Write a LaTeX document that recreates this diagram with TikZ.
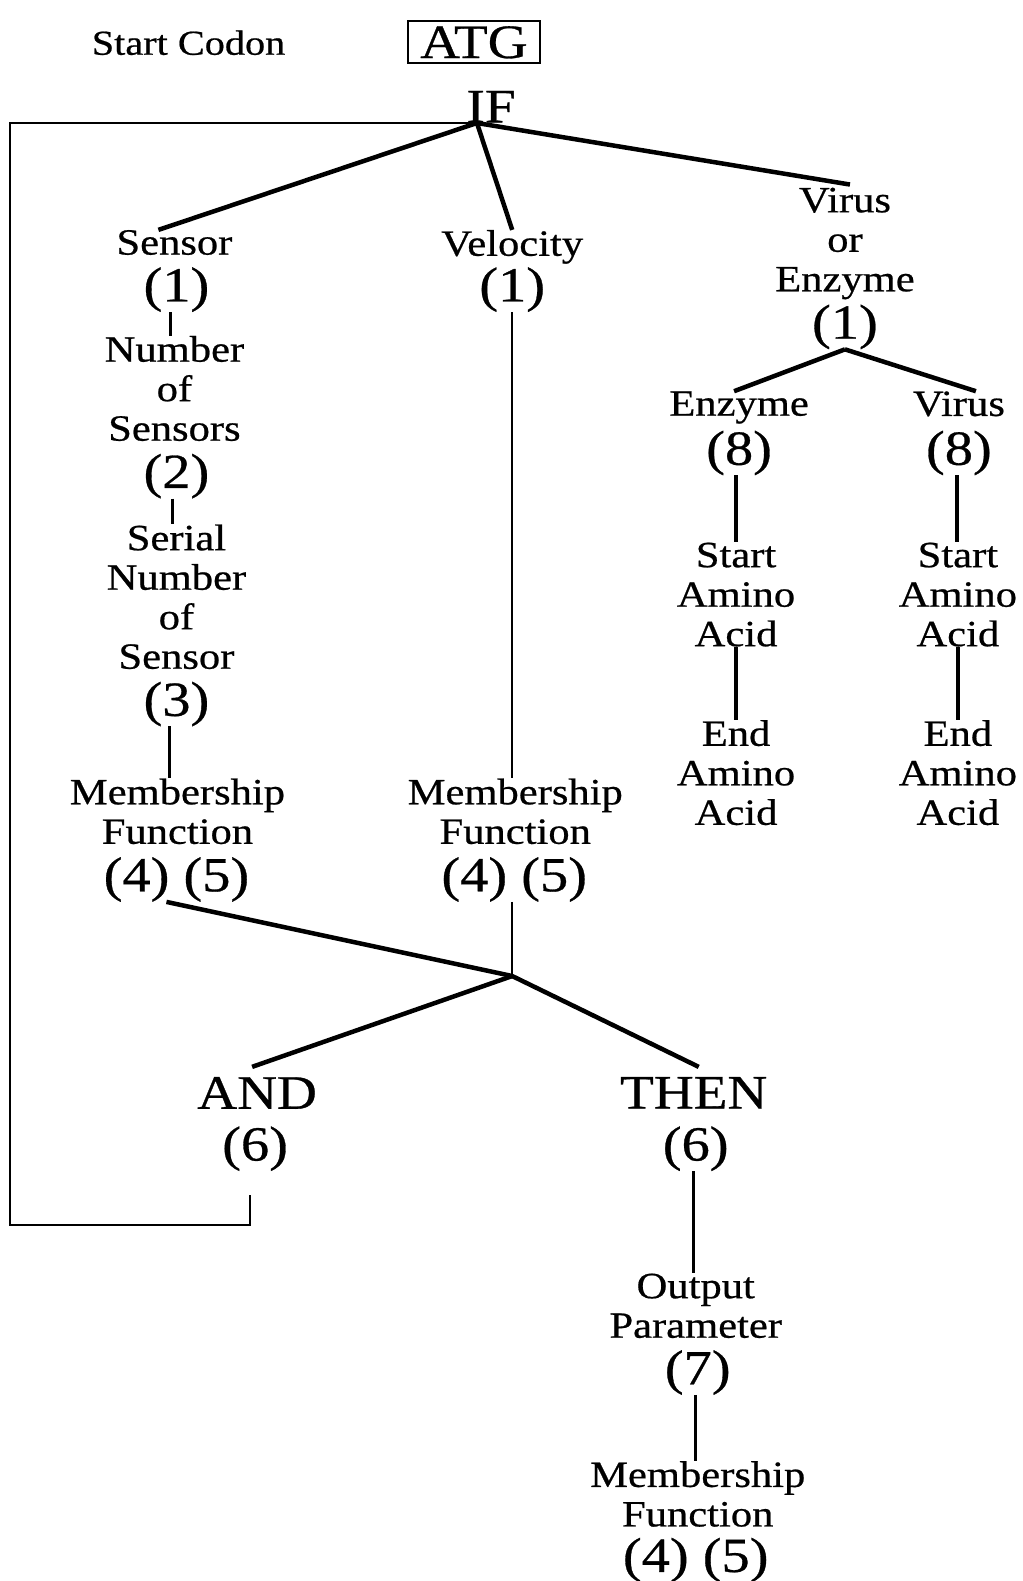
\documentclass[tikz,border=0pt]{standalone}
\usepackage{fontspec}
\setmainfont[FakeStretch=1.15, FakeBold=0.6]{Liberation Serif}
\newcommand{\wordfont}{\fontsize{37}{39.5}\selectfont}
\newcommand{\numfont}{\fontsize{49}{52}\selectfont}
\newcommand{\keyfont}{\fontsize{48}{52}\selectfont}
\newcommand{\codonfont}{\fontsize{35}{40}\selectfont}
\tikzset{
  word/.style={font=\wordfont, align=center, inner sep=0pt, anchor=north},
  num/.style={font=\numfont, inner sep=0pt, anchor=north},
  keyword/.style={font=\keyfont, inner sep=0pt, anchor=north},
  branch/.style={line width=4.5pt},
  stem/.style={line width=2.5pt},
}

\begin{document}
\begin{tikzpicture}[x=1.008pt, y=-1.008pt]
            \useasboundingbox (0,0) rectangle (1014,1568);
            \node[font=\codonfont, inner sep=0pt, anchor=north] (codon) at (187,30) {Start Codon};
            \node[draw, line width=1.8pt, font=\keyfont, inner sep=0pt, minimum width=132pt, minimum height=42pt] (atg) at (470,42) {ATG};
            \node[keyword] (if) at (487,90) {IF};
            \coordinate (ifj) at (473,122);

            \node[word] (sensor) at (173,228) {Sensor};
            \node[num] (sen1) at (175,265) {(1)};
            \node[word] (nos) at (173,333) {Number\\of\\Sensors};
            \node[num] (nos2) at (175,450) {(2)};
            \node[word] (sns) at (175,520) {Serial\\Number\\of\\Sensor};
            \node[num] (sns3) at (175,676) {(3)};
            \node[word] (smf) at (176,772) {Membership\\Function};
            \node[num] (smf45) at (175,850) {(4) (5)};

            \node[word] (vel) at (508,228) {Velocity};
            \node[num] (vel1) at (508,265) {(1)};
            \node[word] (vmf) at (511,772) {Membership\\Function};
            \node[num] (vmf45) at (510,850) {(4) (5)};

            \node[word] (vor) at (838,186) {Virus\\or\\Enzyme};
            \node[num] (vor1) at (838,302) {(1)};
            \node[word] (enz) at (733,388) {Enzyme};
            \node[num] (enz8) at (733,427) {(8)};
            \node[word] (vir) at (951,388) {Virus};
            \node[num] (vir8) at (951,427) {(8)};
            \node[word] (esa) at (730,538) {Start\\Amino\\Acid};
            \node[word] (eea) at (730,714) {End\\Amino\\Acid};
            \node[word] (vsa) at (950,538) {Start\\Amino\\Acid};
            \node[word] (vea) at (950,714) {End\\Amino\\Acid};

            \coordinate (andj) at (508,968);
            \node[keyword] (and) at (255,1068) {AND};
            \node[num] (and6) at (253,1117) {(6)};
            \node[keyword] (then) at (688,1068) {THEN};
            \node[num] (then6) at (690,1117) {(6)};
            \node[word] (outp) at (690,1263) {Output\\Parameter};
            \node[num] (outp7) at (692,1339) {(7)};
            \node[word] (omf) at (692,1449) {Membership\\Function};
            \node[num] (omf45) at (690,1525) {(4) (5)};

            \coordinate (loopa) at (10,1215);
            \coordinate (loopb) at (248,1185);
            \draw[stem] (ifj) -| (loopa) -| (loopb);

            \draw[branch] (ifj) -- ([xshift=-16pt]sensor.north);
            \draw[branch] (ifj) -- (vel.north);
            \draw[branch] (ifj) -- ([xshift=5pt,yshift=3pt]vor.north);

            \draw[stem] ([xshift=-6pt]sen1.south) -- ([xshift=-6pt]sen1.south |- nos.north);
            \draw[stem] ([xshift=-4pt]nos2.south) -- ([xshift=-4pt]nos2.south |- sns.north);
            \draw[stem] ([xshift=-7pt]sns3.south) -- ([xshift=-7pt]sns3.south |- smf.north);
            \draw[stem] (vel1.south) -- (vel1.south |- vmf.north);

            \draw[branch] ([xshift=-10pt]smf45.south) -- (andj);
            \draw[stem] (andj |- vmf45.south) -- (andj);
            \draw[branch] (andj) -- ([xshift=-5pt,yshift=10pt]and.north);
            \draw[branch] (andj) -- ([xshift=5pt,yshift=10pt]then.north);
            \draw[stem] ([xshift=-2pt]then6.south) -- ([xshift=-2pt]then6.south |- outp.north);
            \draw[stem] ([xshift=-2pt]outp7.south) -- ([xshift=-2pt]outp7.south |- omf.north);

            \draw[branch] (vor1.south) -- ([xshift=-5pt]enz.north);
            \draw[branch] (vor1.south) -- ([xshift=17pt]vir.north);
            \draw[branch] ([xshift=-3pt]enz8.south) -- ([xshift=-3pt]enz8.south |- esa.north);
            \draw[branch] (esa.south) -- (eea.north);
            \draw[branch] ([xshift=-2pt]vir8.south) -- ([xshift=-2pt]vir8.south |- vsa.north);
            \draw[branch] (vsa.south) -- (vea.north);
        \end{tikzpicture}
\end{document}
